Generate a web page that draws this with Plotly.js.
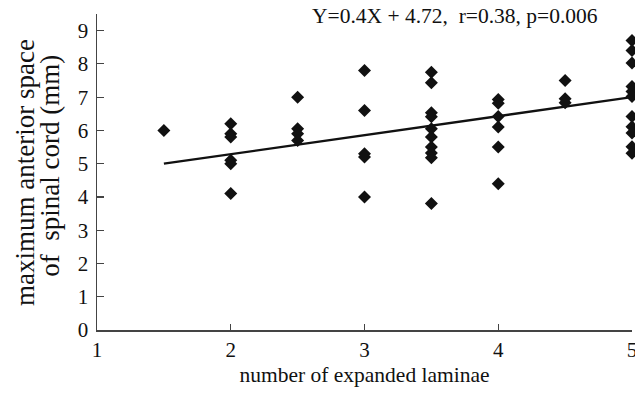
<!DOCTYPE html>
<html>
<head>
<meta charset="utf-8">
<script src="https://cdn.plot.ly/plotly-3.0.1.min.js"></script>
<style>html,body{margin:0;padding:0;background:#fff;}#chart{width:635px;height:394px;}</style>
</head>
<body>
<div id="chart"></div>
<script>
// Scatter data: number of expanded laminae vs maximum anterior space of spinal cord (mm)
const laminae = [
  1.5,
  2, 2, 2, 2, 2, 2,
  2.5, 2.5, 2.5, 2.5,
  3, 3, 3, 3, 3,
  3.5, 3.5, 3.5, 3.5, 3.5, 3.5, 3.5, 3.5, 3.5, 3.5,
  4, 4, 4, 4, 4, 4,
  4.5, 4.5, 4.5,
  5, 5, 5, 5, 5, 5, 5, 5, 5, 5, 5
];
const space = [
  6.0,
  6.2, 5.9, 5.8, 5.1, 5.0, 4.1,
  7.0, 6.05, 5.9, 5.7,
  7.8, 6.6, 5.3, 5.2, 4.0,
  7.75, 7.43, 6.53, 6.41, 6.05, 5.8, 5.5, 5.32, 5.18, 3.8,
  6.93, 6.82, 6.42, 6.1, 5.5, 4.4,
  7.5, 6.95, 6.83,
  8.7, 8.4, 8.03, 7.32, 7.17, 7.02, 6.42, 6.11, 5.92, 5.51, 5.31
];
// Fitted line as drawn
const fitX = [1.5, 5];
const fitY = [5.0, 7.0];
const xTicks = [1, 2, 3, 4, 5];
const yTicks = [0, 1, 2, 3, 4, 5, 6, 7, 8, 9];
const equationText = "Y=0.4X + 4.72,  r=0.38, p=0.006";
const yTitleLines = ["maximum anterior space", "of&nbsp; spinal cord (mm)"];
const xTitle = "number of expanded laminae";

const serif = "Liberation Serif, Times New Roman, serif";

const traces = [
  {
    x: fitX, y: fitY, type: 'scatter', mode: 'lines',
    line: {color: '#111', width: 2.4},
    hoverinfo: 'skip', showlegend: false, cliponaxis: false
  },
  {
    x: laminae, y: space, type: 'scatter', mode: 'markers',
    marker: {symbol: 'diamond', size: 10, color: '#111', line: {width: 0}},
    showlegend: false, cliponaxis: false
  }
];

const layout = {
  width: 635, height: 394,
  margin: {l: 97, r: 3, t: 14, b: 64, pad: 0},
  paper_bgcolor: '#fff', plot_bgcolor: '#fff',
  font: {family: serif, color: '#111', size: 20},
  xaxis: {
    range: [1, 5], tickvals: xTicks, ticktext: xTicks.map(String),
    showgrid: false, zeroline: false,
    showline: true, linecolor: '#444', linewidth: 1.5,
    ticks: 'inside', ticklen: 6, tickwidth: 1.2, tickcolor: '#444',
    tickfont: {family: serif, size: 21, color: '#111'},
    ticklabeloverflow: 'allow',
    title: {text: xTitle, font: {family: serif, size: 21.5, color: '#111'}, standoff: 6},
    automargin: false
  },
  yaxis: {
    range: [0, 9.5], tickvals: yTicks, ticktext: yTicks.map(String),
    showgrid: false, zeroline: false,
    showline: true, linecolor: '#444', linewidth: 1.5,
    ticks: 'inside', ticklen: 7, tickwidth: 1.2, tickcolor: '#444',
    tickfont: {family: serif, size: 21, color: '#111'},
    ticklabelstandoff: 3,
    automargin: false
  },
  annotations: [
    {
      xref: 'paper', yref: 'paper', x: 0.669, y: 0.95,
      xanchor: 'center', yanchor: 'bottom',
      text: equationText, showarrow: false,
      font: {family: serif, size: 21.5, color: '#111'}
    },
    {
      xref: 'paper', yref: 'paper', x: -0.1346, y: 0.5,
      xanchor: 'center', yanchor: 'middle', textangle: -90,
      text: yTitleLines[0], showarrow: false,
      font: {family: serif, size: 27, color: '#111'}
    },
    {
      xref: 'paper', yref: 'paper', x: -0.0879, y: 0.52,
      xanchor: 'center', yanchor: 'middle', textangle: -90,
      text: yTitleLines[1], showarrow: false,
      font: {family: serif, size: 27, color: '#111'}
    }
  ]
};

Plotly.newPlot('chart', traces, layout, {displayModeBar: false, staticPlot: true});
</script>
</body>
</html>
